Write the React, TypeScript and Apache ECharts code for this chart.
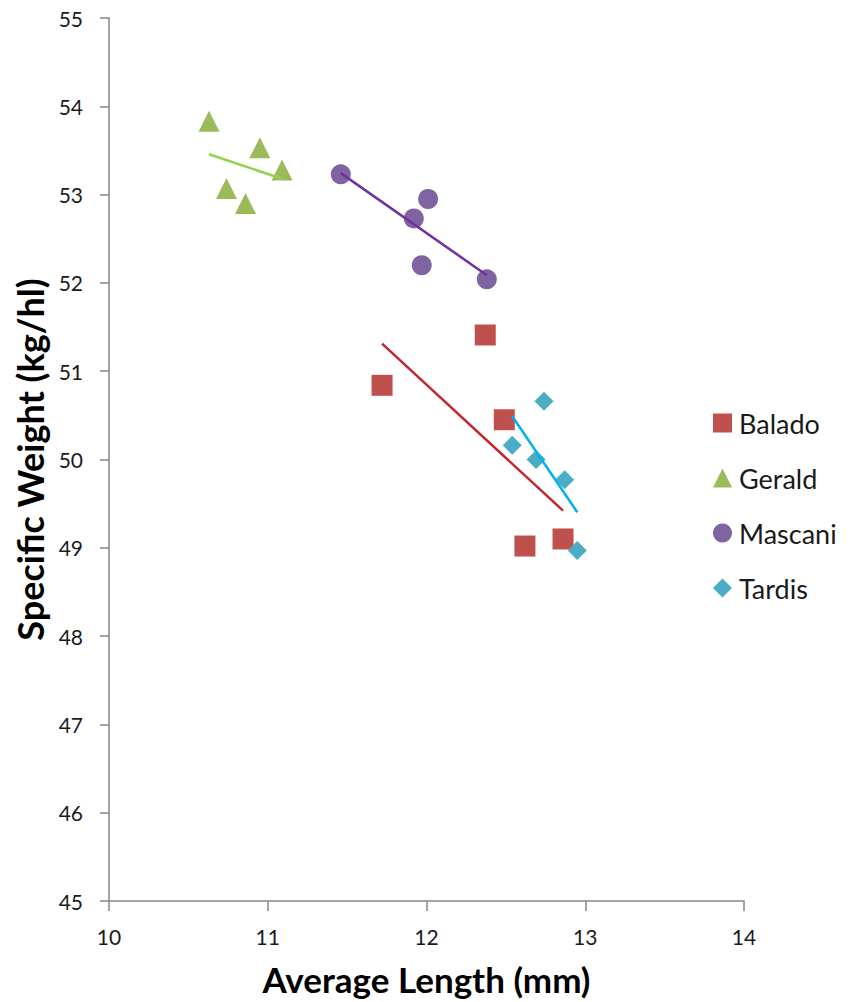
import React, { useEffect, useRef } from "react";
import * as echarts from "echarts";

const seriesNames = ["Balado", "Gerald", "Mascani", "Tardis"];
const baladoX = [11.72, 12.37, 12.49, 12.62, 12.86];
const baladoY = [50.84, 51.41, 50.45, 49.02, 49.1];
const geraldX = [10.63, 10.95, 11.09, 10.74, 10.86];
const geraldY = [53.83, 53.53, 53.28, 53.07, 52.9];
const mascaniX = [11.46, 11.92, 12.01, 11.97, 12.38];
const mascaniY = [53.23, 52.73, 52.95, 52.2, 52.04];
const tardisX = [12.74, 12.54, 12.69, 12.87, 12.95];
const tardisY = [50.66, 50.16, 50.0, 49.77, 48.97];

const markerColors = ["#C0504D", "#9BBB59", "#8064A2", "#4BACC6"];
const trendColors = ["#C0282D", "#92D050", "#7030A0", "#00B0F0"];
const symbols = ["rect", "triangle", "circle", "diamond"];
const symbolSizes = [21, 21, 20, 19];

function pairs(xs: number[], ys: number[]) {
  return xs.map((x, i) => [x, ys[i]]);
}

// Linear least-squares trendline across the data's x range (as Excel does)
function trend(xs: number[], ys: number[]) {
  const n = xs.length;
  const mx = xs.reduce((a, b) => a + b, 0) / n;
  const my = ys.reduce((a, b) => a + b, 0) / n;
  let sxy = 0;
  let sxx = 0;
  for (let i = 0; i < n; i++) {
    sxy += (xs[i] - mx) * (ys[i] - my);
    sxx += (xs[i] - mx) * (xs[i] - mx);
  }
  const b = sxy / sxx;
  const a = my - b * mx;
  const x0 = Math.min(...xs);
  const x1 = Math.max(...xs);
  return [
    [x0, a + b * x0],
    [x1, a + b * x1],
  ];
}

const allX = [baladoX, geraldX, mascaniX, tardisX];
const allY = [baladoY, geraldY, mascaniY, tardisY];

export default function App() {
  const ref = useRef<HTMLDivElement>(null);
  useEffect(() => {
    if (!ref.current) return;
    const chart = echarts.init(ref.current, null, { renderer: "svg" });
    const font = "Lato, 'Open Sans', sans-serif";
    const axisColor = "#868686";
    const textColor = "#1a1a1a";
    const scatterSeries = seriesNames.map((name, i) => ({
      name,
      type: "scatter",
      symbol: symbols[i],
      symbolSize: symbolSizes[i],
      itemStyle: { color: markerColors[i], opacity: 1 },
      data: pairs(allX[i], allY[i]),
      z: 2,
    }));
    const trendSeries = seriesNames.map((name, i) => ({
      name: name + " trend",
      type: "line",
      showSymbol: false,
      symbol: "none",
      lineStyle: { color: trendColors[i], width: 2.5 },
      data: trend(allX[i], allY[i]),
      z: 3,
      silent: true,
    }));
    chart.setOption({
      animation: false,
      backgroundColor: "#ffffff",
      grid: { left: 109, right: 106, top: 18, bottom: 101, outerBoundsMode: "none", containLabel: false },
      legend: {
        data: seriesNames.map((n, i) => ({ name: n, icon: symbols[i] })),
        orient: "vertical",
        left: 708,
        top: 404,
        itemWidth: 19,
        itemHeight: 19,
        itemGap: 27,
        textStyle: { fontFamily: font, fontSize: 27, lineHeight: 28, color: textColor, padding: [0, 0, 0, 2] },
      },
      xAxis: {
        type: "value",
        min: 10,
        max: 14,
        interval: 1,
        name: "Average Length (mm)",
        nameLocation: "middle",
        nameGap: 60,
        nameTextStyle: { fontFamily: font, fontSize: 35, lineHeight: 36, fontWeight: "bold", color: "#000" },
        axisLine: { show: true, onZero: false, lineStyle: { color: axisColor, width: 1.5 } },
        axisTick: { show: true, length: 10, inside: false, lineStyle: { color: axisColor, width: 1.5 } },
        axisLabel: { fontFamily: font, fontSize: 21, color: textColor, margin: 25 },
        splitLine: { show: false },
      },
      yAxis: {
        type: "value",
        min: 45,
        max: 55,
        interval: 1,
        name: "Specific Weight (kg/hl)",
        nameLocation: "middle",
        nameGap: 60,
        nameRotate: 90,
        nameTextStyle: { fontFamily: font, fontSize: 36, fontWeight: "bold", color: "#000" },
        axisLine: { show: true, onZero: false, lineStyle: { color: axisColor, width: 1.5 } },
        axisTick: { show: true, length: 9, inside: false, lineStyle: { color: axisColor, width: 1.5 } },
        axisLabel: { fontFamily: font, fontSize: 21, color: textColor, margin: 26 },
        splitLine: { show: false },
      },
      series: [...scatterSeries, ...trendSeries],
    });
    return () => chart.dispose();
  }, []);
  return <div ref={ref} style={{ width: 850, height: 1002, position: "absolute", left: 0, top: 0 }} />;
}
